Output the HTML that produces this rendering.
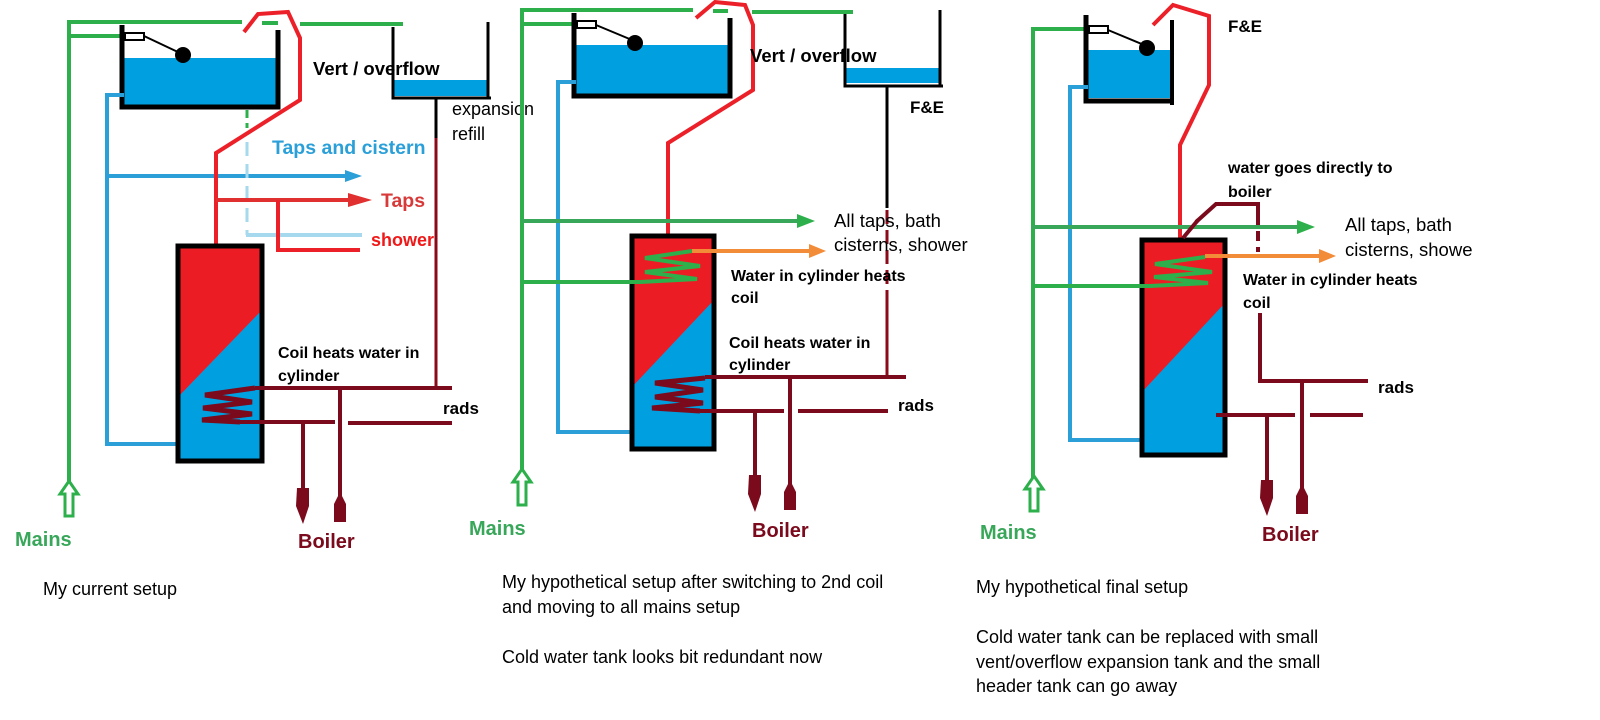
<!DOCTYPE html>
<html><head><meta charset="utf-8"><style>
html,body{margin:0;padding:0;background:#fff;}
svg{display:block;}
text{font-family:"Liberation Sans",sans-serif;}
.b{font-weight:bold;}
</style></head><body>
<svg width="1600" height="720" viewBox="0 0 1600 720" xmlns="http://www.w3.org/2000/svg" fill="none" stroke-linecap="butt">
<!-- ============ PANEL 1 ============ -->
<g>
<polyline points="69,482 69,22 242,22" stroke="#2DB04B" stroke-width="4"/>
<line x1="262" y1="23" x2="278" y2="23" stroke="#2DB04B" stroke-width="4"/>
<line x1="300" y1="24" x2="403" y2="24" stroke="#2DB04B" stroke-width="4"/>
<line x1="69" y1="36" x2="125" y2="36" stroke="#2DB04B" stroke-width="4"/>
<polygon points="69,481 78,494 73,494 73,516 65,516 65,494 60,494" stroke="#2DB04B" stroke-width="3" fill="#fff"/>
<rect x="122" y="58" width="154" height="48" fill="#00A0E0"/>
<polyline points="122,25 122,107 278,107 278,30" stroke="#000" stroke-width="5"/>
<rect x="125" y="33" width="19" height="7" stroke="#000" stroke-width="2" fill="#fff"/>
<line x1="144" y1="36" x2="180" y2="53" stroke="#000" stroke-width="2"/>
<circle cx="183" cy="55" r="8" fill="#000"/>
<polyline points="124,95 107,95 107,444 178,444" stroke="#2A9FD8" stroke-width="4"/>
<line x1="107" y1="176" x2="348" y2="176" stroke="#2A9FD8" stroke-width="4"/>
<polygon points="345,170 362,176 345,182" fill="#2A9FD8"/>
<line x1="247" y1="110" x2="247" y2="128" stroke="#2DB04B" stroke-width="3" stroke-dasharray="8,5"/>
<line x1="247" y1="142" x2="247" y2="235" stroke="#A6D8EE" stroke-width="3" stroke-dasharray="14,8"/>
<line x1="246" y1="235" x2="362" y2="235" stroke="#A6D8EE" stroke-width="4"/>
<polyline points="216,246 216,153 300,100 300,38 288,12 258,14 244,32" stroke="#EC2028" stroke-width="4"/>
<line x1="216" y1="200" x2="350" y2="200" stroke="#E03030" stroke-width="4"/>
<polygon points="348,193 372,200 348,207" fill="#E03030"/>
<polyline points="278,200 278,250 360,250" stroke="#EC2028" stroke-width="4"/>
<rect x="394" y="80" width="93" height="16" fill="#00A0E0"/>
<polyline points="393,27 393,98 491,98" stroke="#000" stroke-width="3"/>
<line x1="488" y1="22" x2="488" y2="98" stroke="#000" stroke-width="3"/>
<line x1="436" y1="98" x2="436" y2="138" stroke="#000" stroke-width="3"/>
<polyline points="436,138 436,390" stroke="#8B0A1A" stroke-width="3"/>
<rect x="178" y="246" width="84" height="215" fill="#00A0E0"/>
<polygon points="178,246 262,246 262,310 178,397" fill="#EC1C24"/>
<rect x="178" y="246" width="84" height="215" stroke="#000" stroke-width="5"/>
<polyline points="255,388 205,395 252,402 203,408 252,414 202,420 240,422" stroke="#7A0A1C" stroke-width="5"/>
<line x1="255" y1="388" x2="452" y2="388" stroke="#7A0A1C" stroke-width="4"/>
<line x1="240" y1="422" x2="335" y2="422" stroke="#7A0A1C" stroke-width="4"/>
<line x1="348" y1="423" x2="452" y2="423" stroke="#7A0A1C" stroke-width="4"/>
<line x1="303" y1="422" x2="303" y2="492" stroke="#7A0A1C" stroke-width="4"/>
<line x1="340" y1="388" x2="340" y2="500" stroke="#7A0A1C" stroke-width="4"/>
<polygon points="297,488 309,488 309,506 303,524 296,506" fill="#7A0A1C"/>
<polygon points="340,492 346,504 346,522 334,522 334,504" fill="#7A0A1C"/>
<text x="272" y="154" class="b" font-size="19.5" fill="#2A9FD8">Taps and cistern</text>
<text x="381" y="207" class="b" font-size="19.5" fill="#D83A3A">Taps</text>
<text x="371" y="246" class="b" font-size="18" fill="#F01818">shower</text>
<text x="313" y="75" class="b" font-size="18.5" fill="#000">Vert / overflow</text>
<text x="452" y="115" font-size="18" fill="#000">expansion</text>
<text x="452" y="140" font-size="18" fill="#000">refill</text>
<text x="278" y="358" class="b" font-size="16" fill="#000">Coil heats water in</text>
<text x="278" y="381" class="b" font-size="16" fill="#000">cylinder</text>
<text x="443" y="414" class="b" font-size="17" fill="#000">rads</text>
<text x="15" y="546" class="b" font-size="20" fill="#39A75A">Mains</text>
<text x="298" y="548" class="b" font-size="20" fill="#7A0A1C">Boiler</text>
<text x="43" y="595" font-size="18" fill="#000">My current setup</text>
</g>

<!-- ============ PANEL 2 ============ -->
<g>
<polyline points="522,470 522,10 693,10" stroke="#2DB04B" stroke-width="4"/>
<line x1="713" y1="11" x2="728" y2="11" stroke="#2DB04B" stroke-width="4"/>
<line x1="752" y1="12" x2="853" y2="12" stroke="#2DB04B" stroke-width="4"/>
<line x1="522" y1="24" x2="577" y2="24" stroke="#2DB04B" stroke-width="4"/>
<polygon points="522,469 531,482 526,482 526,505 518,505 518,482 513,482" stroke="#2DB04B" stroke-width="3" fill="#fff"/>
<rect x="575" y="45" width="154" height="50" fill="#00A0E0"/>
<polyline points="574,13 574,96 730,96 730,18" stroke="#000" stroke-width="5"/>
<rect x="577" y="21" width="19" height="7" stroke="#000" stroke-width="2" fill="#fff"/>
<line x1="596" y1="25" x2="632" y2="40" stroke="#000" stroke-width="2"/>
<circle cx="635" cy="43" r="8" fill="#000"/>
<polyline points="576,82 558,82 558,432 633,432" stroke="#2A9FD8" stroke-width="4"/>
<polyline points="668,236 668,143 753,90 753,25 745,5 715,2 696,18" stroke="#EC2028" stroke-width="4"/>
<line x1="522" y1="221" x2="800" y2="221" stroke="#39A75A" stroke-width="4"/>
<polygon points="797,214 815,221 797,228" fill="#2DB04B"/>
<rect x="632" y="236" width="82" height="213" fill="#00A0E0"/>
<polygon points="632,236 714,236 714,300 632,387" fill="#EC1C24"/>
<rect x="632" y="236" width="82" height="213" stroke="#000" stroke-width="5"/>
<polyline points="692,251 645,258 700,266 645,272 697,279 640,282 522,282" stroke="#2DB04B" stroke-width="4"/>
<line x1="692" y1="251" x2="812" y2="251" stroke="#F28C38" stroke-width="4"/>
<polygon points="809,244 826,251 809,258" fill="#F28C38"/>
<rect x="846" y="68" width="93" height="15" fill="#00A0E0"/>
<polyline points="845,14 845,86 943,86" stroke="#000" stroke-width="3"/>
<line x1="940" y1="10" x2="940" y2="86" stroke="#000" stroke-width="3"/>
<line x1="887" y1="86" x2="887" y2="208" stroke="#000" stroke-width="3"/>
<line x1="887" y1="210" x2="887" y2="290" stroke="#8B0A1A" stroke-width="3" stroke-dasharray="14,6"/>
<line x1="887" y1="290" x2="887" y2="377" stroke="#8B0A1A" stroke-width="3"/>
<polyline points="705,378 655,383 703,390 655,397 703,403 652,408 700,411" stroke="#7A0A1C" stroke-width="5"/>
<line x1="705" y1="377" x2="906" y2="377" stroke="#7A0A1C" stroke-width="4"/>
<line x1="700" y1="411" x2="784" y2="411" stroke="#7A0A1C" stroke-width="4"/>
<line x1="798" y1="411" x2="888" y2="411" stroke="#7A0A1C" stroke-width="4"/>
<line x1="755" y1="411" x2="755" y2="478" stroke="#7A0A1C" stroke-width="4"/>
<line x1="790" y1="377" x2="790" y2="485" stroke="#7A0A1C" stroke-width="4"/>
<polygon points="749,475 761,475 761,494 755,512 748,494" fill="#7A0A1C"/>
<polygon points="790,480 796,492 796,510 784,510 784,492" fill="#7A0A1C"/>
<text x="750" y="62" class="b" font-size="18.5" fill="#000">Vert / overflow</text>
<text x="910" y="113" class="b" font-size="17" fill="#000">F&amp;E</text>
<text x="834" y="227" font-size="18.5" fill="#000">All taps, bath</text>
<text x="834" y="251" font-size="18.5" fill="#000">cisterns, shower</text>
<text x="731" y="281" class="b" font-size="16" fill="#000">Water in cylinder heats</text>
<text x="731" y="303" class="b" font-size="16" fill="#000">coil</text>
<text x="729" y="348" class="b" font-size="16" fill="#000">Coil heats water in</text>
<text x="729" y="370" class="b" font-size="16" fill="#000">cylinder</text>
<text x="898" y="411" class="b" font-size="17" fill="#000">rads</text>
<text x="469" y="535" class="b" font-size="20" fill="#39A75A">Mains</text>
<text x="752" y="537" class="b" font-size="20" fill="#7A0A1C">Boiler</text>
<text x="502" y="588" font-size="18" fill="#000">My hypothetical setup after switching to 2nd coil</text>
<text x="502" y="613" font-size="18" fill="#000">and moving to all mains setup</text>
<text x="502" y="663" font-size="18" fill="#000">Cold water tank looks bit redundant now</text>
</g>

<!-- ============ PANEL 3 ============ -->
<g>
<polyline points="1033,478 1033,29 1090,29" stroke="#2DB04B" stroke-width="4"/>
<polygon points="1034,476 1043,489 1038,489 1038,511 1030,511 1030,489 1025,489" stroke="#2DB04B" stroke-width="3" fill="#fff"/>
<rect x="1086" y="50" width="85" height="48" fill="#00A0E0"/>
<polyline points="1086,15 1086,101 1172,101" stroke="#000" stroke-width="5"/>
<line x1="1172" y1="20" x2="1172" y2="105" stroke="#000" stroke-width="4"/>
<rect x="1089" y="26" width="19" height="7" stroke="#000" stroke-width="2" fill="#fff"/>
<line x1="1108" y1="30" x2="1144" y2="45" stroke="#000" stroke-width="2"/>
<circle cx="1147" cy="48" r="8" fill="#000"/>
<polyline points="1088,87 1070,87 1070,440 1145,440" stroke="#2A9FD8" stroke-width="4"/>
<polyline points="1180,241 1180,145 1209,85 1209,16 1173,5 1153,25" stroke="#EC2028" stroke-width="4"/>
<line x1="1032" y1="227" x2="1300" y2="227" stroke="#39A75A" stroke-width="4"/>
<polygon points="1297,220 1315,227 1297,234" fill="#2DB04B"/>
<rect x="1142" y="240" width="83" height="215" fill="#00A0E0"/>
<polygon points="1142,240 1225,240 1225,303 1142,392" fill="#EC1C24"/>
<rect x="1142" y="240" width="83" height="215" stroke="#000" stroke-width="5"/>
<polyline points="1205,257 1155,264 1212,272 1154,277 1208,283 1150,286 1032,286" stroke="#2DB04B" stroke-width="4"/>
<line x1="1205" y1="256" x2="1322" y2="256" stroke="#F28C38" stroke-width="4"/>
<polygon points="1319,249 1336,256 1319,263" fill="#F28C38"/>
<polyline points="1183,238 1198,220" stroke="#7A0A1C" stroke-width="4"/>
<polyline points="1196,222 1216,204 1258,204 1258,215" stroke="#7A0A1C" stroke-width="4"/>
<line x1="1258" y1="215" x2="1258" y2="252" stroke="#7A0A1C" stroke-width="4" stroke-dasharray="10,6"/>
<polyline points="1260,313 1260,381 1368,381" stroke="#7A0A1C" stroke-width="4"/>
<line x1="1216" y1="415" x2="1295" y2="415" stroke="#7A0A1C" stroke-width="4"/>
<line x1="1310" y1="415" x2="1363" y2="415" stroke="#7A0A1C" stroke-width="4"/>
<line x1="1267" y1="415" x2="1267" y2="482" stroke="#7A0A1C" stroke-width="4"/>
<line x1="1302" y1="381" x2="1302" y2="488" stroke="#7A0A1C" stroke-width="4"/>
<polygon points="1261,480 1273,480 1273,498 1267,516 1260,498" fill="#7A0A1C"/>
<polygon points="1302,484 1308,496 1308,514 1296,514 1296,496" fill="#7A0A1C"/>
<text x="1228" y="32" class="b" font-size="17" fill="#000">F&amp;E</text>
<text x="1228" y="173" class="b" font-size="16" fill="#000">water goes directly to</text>
<text x="1228" y="197" class="b" font-size="16" fill="#000">boiler</text>
<text x="1345" y="231" font-size="18.5" fill="#000">All taps, bath</text>
<text x="1345" y="256" font-size="18.5" fill="#000">cisterns, showe</text>
<text x="1243" y="285" class="b" font-size="16" fill="#000">Water in cylinder heats</text>
<text x="1243" y="308" class="b" font-size="16" fill="#000">coil</text>
<text x="1378" y="393" class="b" font-size="17" fill="#000">rads</text>
<text x="980" y="539" class="b" font-size="20" fill="#39A75A">Mains</text>
<text x="1262" y="541" class="b" font-size="20" fill="#7A0A1C">Boiler</text>
<text x="976" y="593" font-size="18" fill="#000">My hypothetical final setup</text>
<text x="976" y="643" font-size="18" fill="#000">Cold water tank can be replaced with small</text>
<text x="976" y="668" font-size="18" fill="#000">vent/overflow expansion tank and the small</text>
<text x="976" y="692" font-size="18" fill="#000">header tank can go away</text>
</g>
</svg>
</body></html>
